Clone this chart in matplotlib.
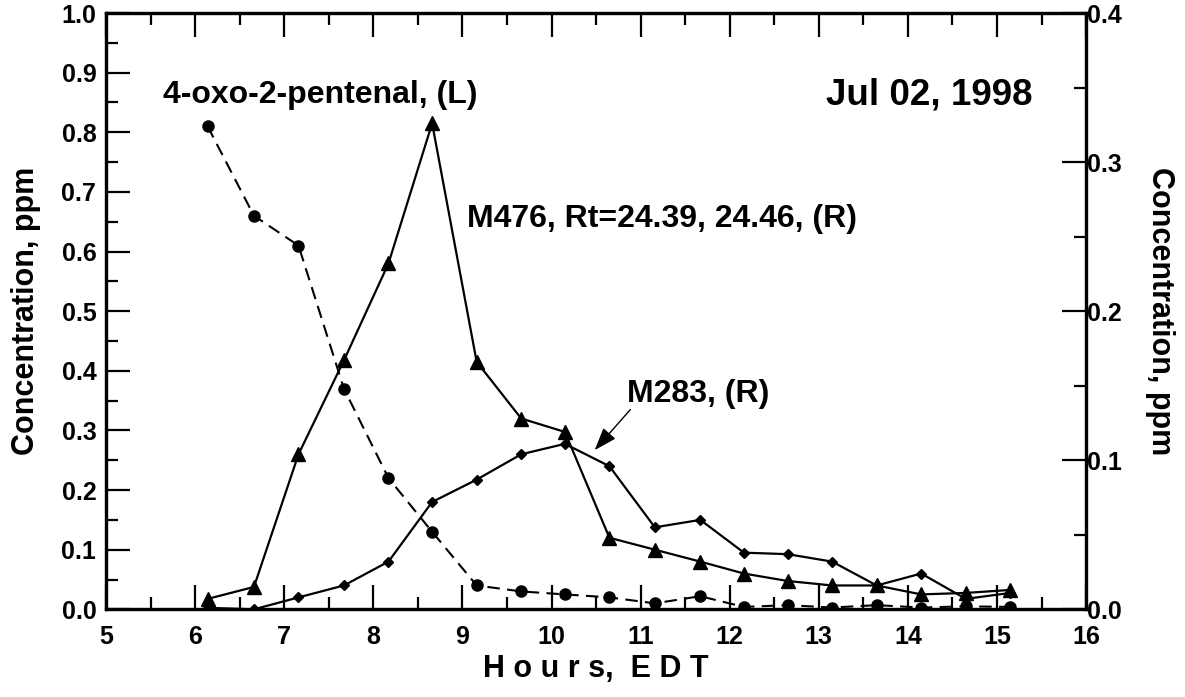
import matplotlib
matplotlib.use("Agg")
from matplotlib import pyplot as plt
from matplotlib.ticker import MultipleLocator

# sampling times (EDT) and concentrations
hours = [6.14, 6.66, 7.16, 7.67, 8.17, 8.66, 9.16, 9.66, 10.15, 10.65,
         11.16, 11.67, 12.16, 12.65, 13.15, 13.65, 14.15, 14.65, 15.15]
# 4-oxo-2-pentenal, left axis (ppm)
pentenal = [0.81, 0.66, 0.61, 0.37, 0.22, 0.13, 0.04, 0.03, 0.025, 0.02,
            0.01, 0.022, 0.004, 0.007, 0.003, 0.007, 0.003, 0.005, 0.004]
# M476, right axis (ppm)
m476 = [0.007, 0.015, 0.104, 0.167, 0.232, 0.326, 0.166, 0.128, 0.119, 0.048,
        0.040, 0.032, 0.024, 0.019, 0.016, 0.016, 0.010, 0.011, 0.013]
# M283, right axis (ppm)
m283 = [0.001, 0.0, 0.008, 0.016, 0.032, 0.072, 0.087, 0.104, 0.111, 0.096,
        0.055, 0.060, 0.038, 0.037, 0.032, 0.016, 0.024, 0.007, 0.011]

plt.rcParams['font.family'] = ['Liberation Sans', 'DejaVu Sans']
plt.rcParams['font.weight'] = 'bold'

fig = plt.figure(figsize=(11.85, 6.97), dpi=100)
ax = fig.add_axes([0.0895, 0.1258, 0.8270, 0.8555])
ax2 = ax.twinx()

ax.plot(hours, pentenal, color='black', lw=1.5, ls=(0, (6, 3.5)),
        marker='o', markersize=8, zorder=3)
ax2.plot(hours, m476, color='black', lw=1.6, marker='^', markersize=10)
ax2.plot(hours, m283, color='black', lw=1.6, marker='D', markersize=5.5)

ax.set_xlim(5, 16)
ax.set_ylim(0, 1.0)
ax2.set_ylim(0, 0.4)

ax.xaxis.set_major_locator(MultipleLocator(1))
ax.xaxis.set_minor_locator(MultipleLocator(0.5))
ax.yaxis.set_major_locator(MultipleLocator(0.1))
ax.yaxis.set_minor_locator(MultipleLocator(0.05))
ax2.yaxis.set_major_locator(MultipleLocator(0.1))
ax2.yaxis.set_minor_locator(MultipleLocator(0.05))
ax.yaxis.set_major_formatter(lambda v, p: f"{v:.1f}")
ax2.yaxis.set_major_formatter(lambda v, p: f"{v:.1f}")

ax.tick_params(which='both', direction='in', top=True, right=False, labelsize=18)
ax.tick_params(which='major', length=17, width=1.6)
ax.tick_params(which='minor', length=8.5, width=1.6)
ax.tick_params(axis='y', pad=7)
ax.tick_params(axis='x', pad=11)
ax2.tick_params(which='both', direction='in', labelsize=18, pad=1)
ax2.tick_params(which='major', length=17, width=1.6)
ax2.tick_params(which='minor', length=8.5, width=1.6)

for a in (ax, ax2):
    for s in a.spines.values():
        s.set_linewidth(2.3)

ax.set_xlabel("H o u r s,  E D T", fontsize=22, fontweight='bold', labelpad=4)
ax.set_ylabel("Concentration, ppm", fontsize=22, fontweight='bold', labelpad=15)
ax2.set_ylabel("Concentration, ppm", fontsize=22, fontweight='bold',
               rotation=270, labelpad=38)

ax.text(0.058, 0.849, "4-oxo-2-pentenal, (L)", transform=ax.transAxes,
        fontsize=23, fontweight='bold', va='baseline')
ax.text(0.368, 0.642, "M476, Rt=24.39, 24.46, (R)", transform=ax.transAxes,
        fontsize=23, fontweight='bold', va='baseline')
ax.text(0.945, 0.846, "Jul 02, 1998", transform=ax.transAxes,
        fontsize=26.5, fontweight='bold', va='baseline', ha='right')
ax.text(0.532, 0.348, "M283, (R)", transform=ax.transAxes,
        fontsize=23, fontweight='bold', va='baseline')
ax.annotate("", xy=(10.485, 0.267), xytext=(10.885, 0.335),
            arrowprops=dict(arrowstyle='-|>,head_length=0.7,head_width=0.25',
                            mutation_scale=20, lw=1, color='black',
                            shrinkA=0, shrinkB=0))

fig.savefig("out.png", dpi=100)
